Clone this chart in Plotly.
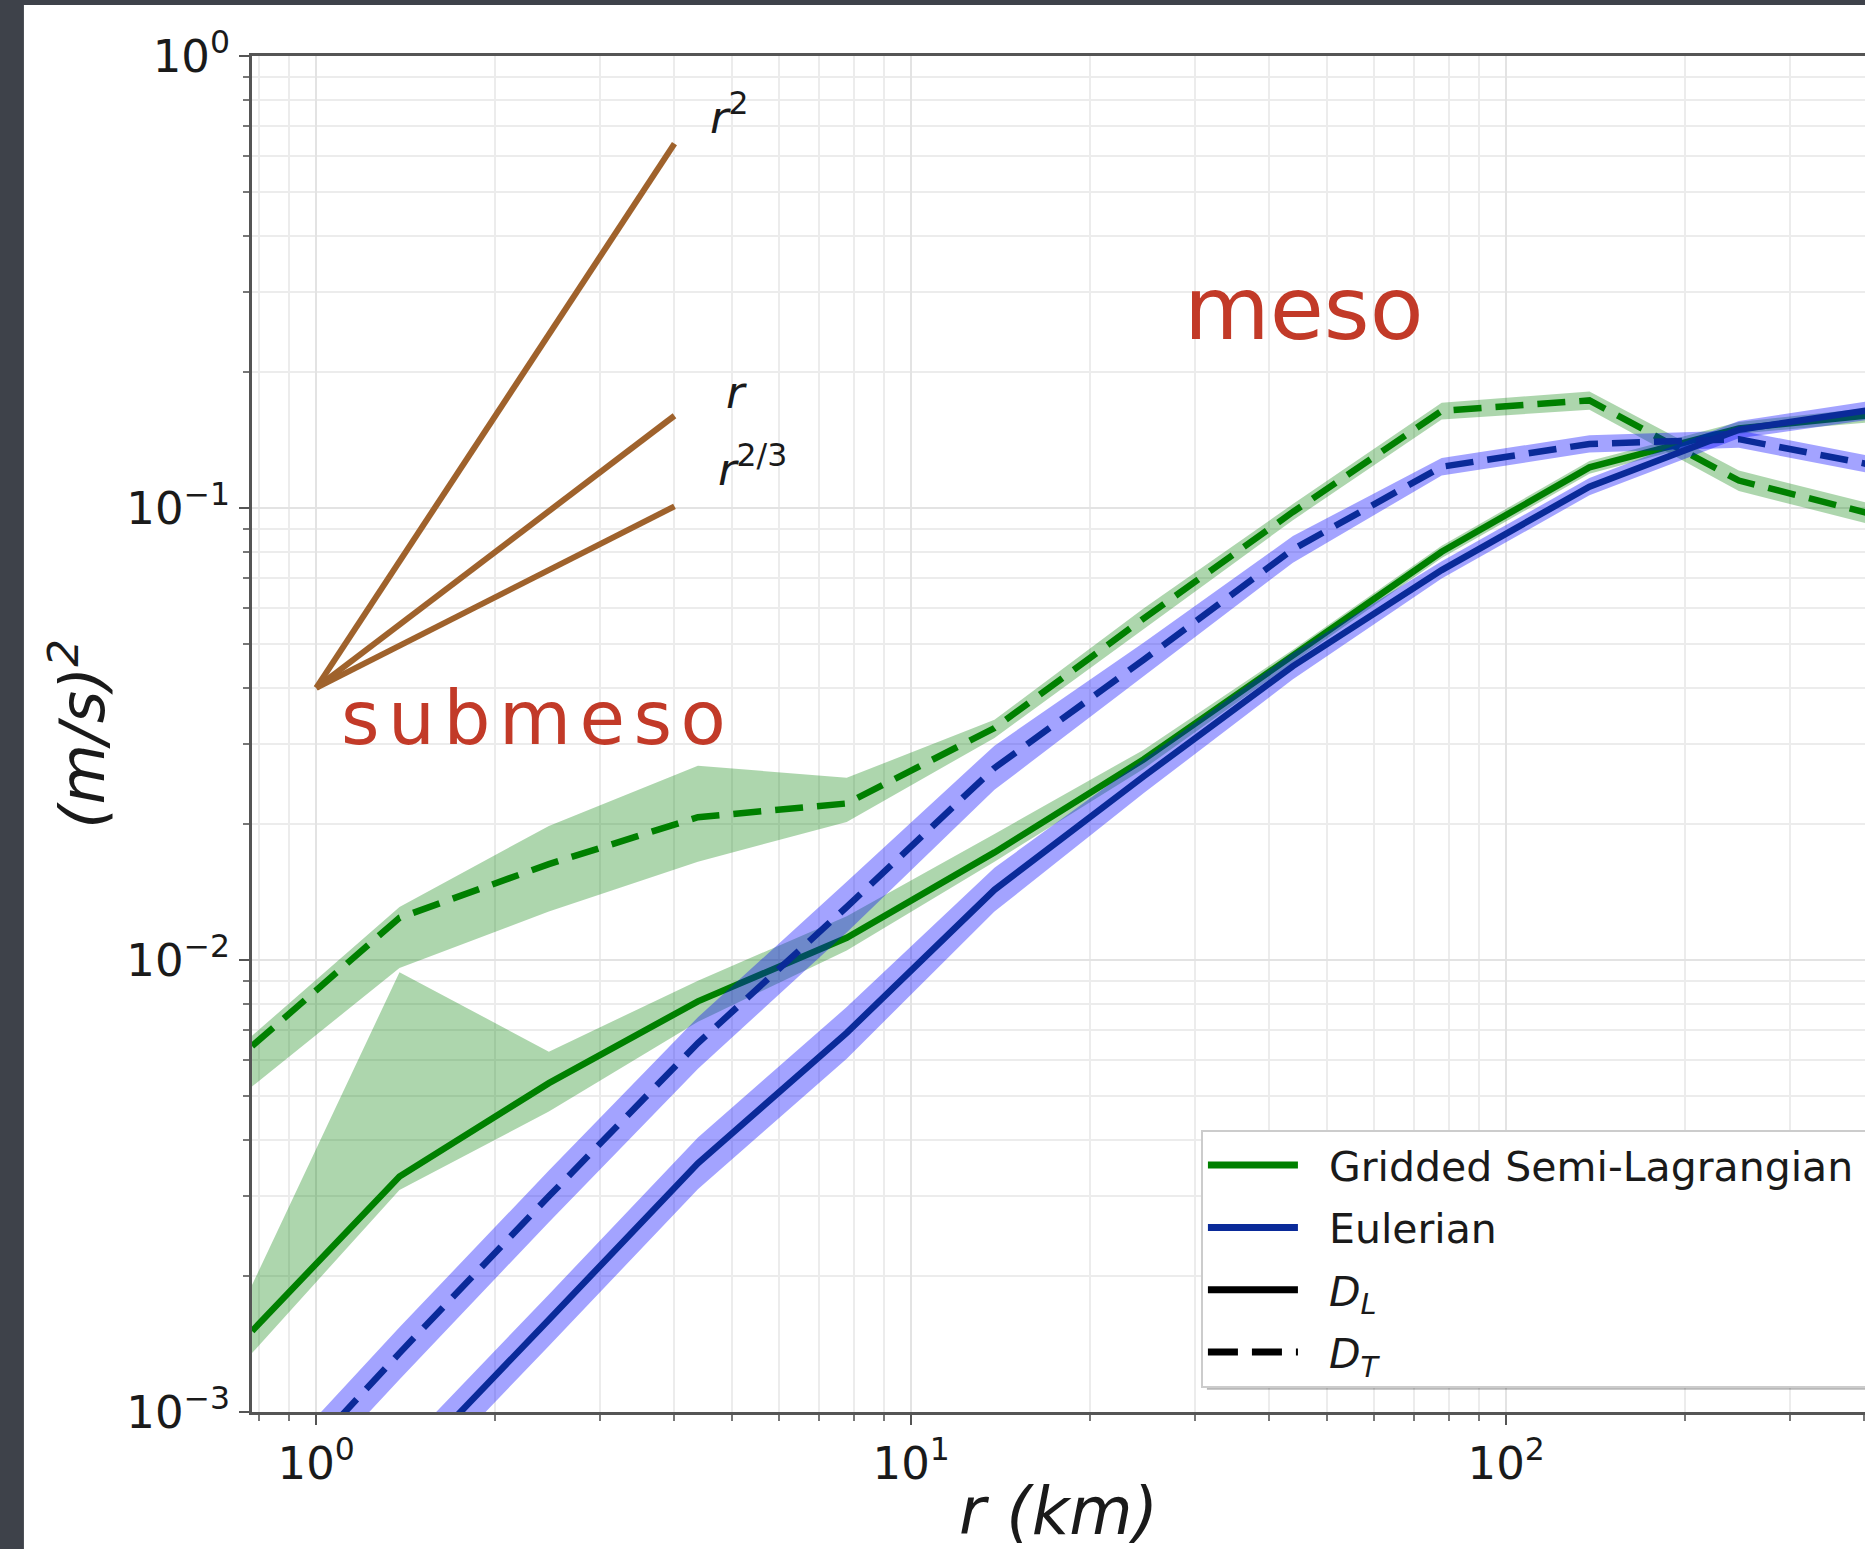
import plotly.graph_objects as go

# Separation distance r (km), quarter-decade bins
r_km = [0.78, 1.38, 2.46, 4.38, 7.79, 13.8, 24.6, 43.8, 77.9, 138, 246, 438]

# Gridded Semi-Lagrangian, transverse structure function D_T and spread
gsl_dt = [6.45e-3, 0.0124, 0.0163, 0.0207, 0.0222, 0.0326, 0.057, 0.098, 0.164, 0.173, 0.115, 0.095]
gsl_dt_lo = [5.25e-3, 9.6e-3, 0.0128, 0.0165, 0.0202, 0.031, 0.054, 0.094, 0.157, 0.165, 0.109, 0.090]
gsl_dt_hi = [6.8e-3, 0.0131, 0.0198, 0.0269, 0.0253, 0.034, 0.060, 0.102, 0.171, 0.181, 0.121, 0.100]

# Gridded Semi-Lagrangian, longitudinal structure function D_L and spread
gsl_dl = [1.51e-3, 3.32e-3, 5.34e-3, 8.1e-3, 0.0112, 0.0173, 0.0278, 0.047, 0.080, 0.123, 0.150, 0.162]
gsl_dl_lo = [1.35e-3, 3.1e-3, 4.62e-3, 7.3e-3, 0.0105, 0.0165, 0.0265, 0.0455, 0.0775, 0.119, 0.146, 0.156]
gsl_dl_hi = [1.91e-3, 9.4e-3, 6.27e-3, 9.0e-3, 0.0125, 0.019, 0.0292, 0.0486, 0.0825, 0.127, 0.155, 0.168]

# Eulerian, D_T and spread
eul_dt = [6.0e-4, 1.35e-3, 3.0e-3, 6.55e-3, 0.0131, 0.0266, 0.0462, 0.081, 0.1234, 0.1386, 0.142, 0.1226]
eul_dt_lo = [5.26e-4, 1.18e-3, 2.63e-3, 5.75e-3, 0.0115, 0.0238, 0.0424, 0.0757, 0.118, 0.1326, 0.1359, 0.1173]
eul_dt_hi = [6.84e-4, 1.54e-3, 3.42e-3, 7.47e-3, 0.0149, 0.0298, 0.0504, 0.0867, 0.129, 0.1448, 0.1484, 0.1281]

# Eulerian, D_L and spread
eul_dl = [3.3e-4, 7.2e-4, 1.6e-3, 3.55e-3, 6.9e-3, 0.0143, 0.0255, 0.0447, 0.0729, 0.1115, 0.149, 0.167]
eul_dl_lo = [2.89e-4, 6.32e-4, 1.40e-3, 3.11e-3, 6.05e-3, 0.0128, 0.0234, 0.0418, 0.0698, 0.1067, 0.1426, 0.159]
eul_dl_hi = [3.76e-4, 8.21e-4, 1.82e-3, 4.05e-3, 7.87e-3, 0.016, 0.0278, 0.0478, 0.0762, 0.1165, 0.1557, 0.175]

# Power-law guide lines anchored at r = 1 km
guide_r = [1, 4]
guide_r2 = [0.04, 0.64]
guide_r1 = [0.04, 0.16]
guide_r23 = [0.04, 0.1008]

x_tick_vals = [1, 10, 100]
x_tick_text = ["10<sup>0</sup>", "10<sup>1</sup>", "10<sup>2</sup>"]
y_tick_vals = [1e-3, 1e-2, 1e-1, 1]
y_tick_text = ["10<sup>\u22123</sup>", "10<sup>\u22122</sup>", "10<sup>\u22121</sup>", "10<sup>0</sup>"]

GREEN = "#008000"
GREEN_FILL = "rgba(0,128,0,0.32)"
BLUE = "#0a2a99"
BLUE_FILL = "rgba(0,0,255,0.36)"
BROWN = "#9f622c"
RED = "#c23a28"
FONT = "DejaVu Sans"
LW = 6.5
DASH = "28px,14px"

fig = go.Figure()


def band(lo, hi, color):
    return go.Scatter(
        x=r_km + r_km[::-1], y=hi + lo[::-1], fill="toself", fillcolor=color,
        mode="lines", line=dict(width=0), showlegend=False, hoverinfo="skip",
    )


def curve(y, color, dash):
    return go.Scatter(
        x=r_km, y=y, mode="lines", line=dict(color=color, width=LW, dash=dash),
        showlegend=False,
    )


# Gridded Semi-Lagrangian
fig.add_trace(band(gsl_dt_lo, gsl_dt_hi, GREEN_FILL))
fig.add_trace(band(gsl_dl_lo, gsl_dl_hi, GREEN_FILL))
fig.add_trace(curve(gsl_dt, GREEN, DASH))
fig.add_trace(curve(gsl_dl, GREEN, "solid"))

# Eulerian
fig.add_trace(band(eul_dt_lo, eul_dt_hi, BLUE_FILL))
fig.add_trace(band(eul_dl_lo, eul_dl_hi, BLUE_FILL))
fig.add_trace(curve(eul_dt, BLUE, DASH))
fig.add_trace(curve(eul_dl, BLUE, "solid"))

# Power-law guides
for g in (guide_r2, guide_r1, guide_r23):
    fig.add_trace(go.Scatter(x=guide_r, y=g, mode="lines",
                             line=dict(color=BROWN, width=6), showlegend=False))

# Legend entries
SP = "\u00a0\u00a0"
legend_items = [
    (SP + "Gridded Semi-Lagrangian\u00a0", GREEN, "solid"),
    (SP + "Eulerian", BLUE, "solid"),
    (SP + "<i>D<sub>L</sub></i>", "black", "solid"),
    (SP + "<i>D<sub>T</sub></i>", "black", "30px,14px"),
]
for i, (name, col, dash) in enumerate(legend_items):
    fig.add_trace(go.Scatter(x=[None], y=[None], mode="lines", name=name,
                             legendgroup=f"g{i}",
                             line=dict(color=col, width=7, dash=dash)))

# Guide labels
guide_labels = [
    ("<i>r</i><sup>2</sup>", 0.6588, -0.1305),
    ("<i>r</i>", 0.6857, -0.7434),
    ("<i>r</i><sup>2/3</sup>", 0.6723, -0.909),
]
for txt, lx, ly in guide_labels:
    fig.add_annotation(x=lx, y=ly, xref="x", yref="y", text=txt, showarrow=False,
                       xanchor="left", yanchor="middle",
                       font=dict(family=FONT, size=45, color="#1a1a1a"))

# Regime labels
fig.add_annotation(x=0.0387, y=-1.4646, xref="x", yref="y",
                   text='<span style="letter-spacing:8.5px">submeso</span>',
                   showarrow=False, xanchor="left", yanchor="middle",
                   font=dict(family=FONT, size=74, color=RED))
fig.add_annotation(x=1.4555, y=-0.5588, xref="x", yref="y", text="meso",
                   showarrow=False, xanchor="left", yanchor="middle",
                   font=dict(family=FONT, size=88, color=RED))

# White slide panel behind the chart
fig.add_shape(type="rect", xref="paper", yref="paper", x0=-0.1414, x1=1.05,
              y0=-0.2, y1=1.0376, fillcolor="white", line=dict(width=0),
              layer="below")

# Soft drop shadow under the legend box
fig.add_shape(type="rect", xref="paper", yref="paper", x0=0.592, x1=1.05,
              y0=0.0165, y1=0.20, fillcolor="rgba(0,0,0,0.28)",
              line=dict(width=0), layer="above")

minor_x = [m * 10 ** e for e in range(-1, 3) for m in range(2, 10)]
minor_y = [m * 10 ** e for e in range(-4, 0) for m in range(2, 10)]

axis_common = dict(
    type="log", showline=True, linecolor="#555555", linewidth=3,
    ticks="outside", ticklen=10, tickwidth=2, tickcolor="#555555",
    showgrid=True, gridcolor="#e3e3e3", gridwidth=2, zeroline=False,
    tickfont=dict(family=FONT, size=45, color="#1a1a1a"),
)

fig.update_xaxes(
    **axis_common, range=[-0.108, 2.603], mirror=True,
    tickmode="array", tickvals=x_tick_vals, ticktext=x_tick_text,
    minor=dict(tickmode="array", tickvals=minor_x, ticks="outside", ticklen=6,
               tickwidth=1.5, tickcolor="#777777", showgrid=True,
               gridcolor="#ececec", gridwidth=2),
    title=dict(text="\u00a0\u00a0r (km)", standoff=12,
               font=dict(family=FONT, size=65, style="italic", color="#1a1a1a")),
)
fig.update_yaxes(
    **axis_common, range=[-3, 0], mirror=False,
    tickmode="array", tickvals=y_tick_vals, ticktext=y_tick_text,
    minor=dict(tickmode="array", tickvals=minor_y, ticks="outside", ticklen=6,
               tickwidth=1.5, tickcolor="#777777", showgrid=True,
               gridcolor="#ececec", gridwidth=2),
    title=dict(text="(m/s)<sup>2</sup>", standoff=2,
               font=dict(family=FONT, size=62, style="italic", color="#1a1a1a")),
)

fig.update_layout(
    width=1865, height=1549,
    margin=dict(l=252, r=0, t=56, b=137, pad=0, autoexpand=False),
    paper_bgcolor="#3e424a", plot_bgcolor="white",
    font=dict(family=FONT, color="#1a1a1a"),
    legend=dict(x=0.5883, y=0.208, xanchor="left", yanchor="top",
                bgcolor="white", bordercolor="#cccccc", borderwidth=2,
                font=dict(family=FONT, size=41, color="#1a1a1a"),
                itemwidth=90, tracegroupgap=6),
)

fig.write_html("out.html")
